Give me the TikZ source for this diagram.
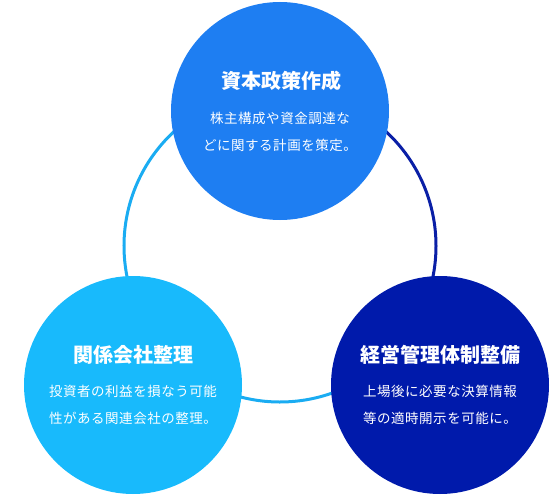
\documentclass[tikz,border=0pt]{standalone}
\usepackage{fontspec}
\setmainfont{Noto Sans CJK JP}
\newfontfamily\bodyfont[LetterSpace=4]{Noto Sans CJK JP}
\definecolor{topblue}{HTML}{1E7EF2}
\definecolor{leftblue}{HTML}{18BAFC}
\definecolor{rightblue}{HTML}{001AAB}
\definecolor{ringlight}{HTML}{1AACF2}
\definecolor{ringdark}{HTML}{0A1FA6}
\tikzset{
  bigcirc/.style={circle, minimum size=218pt, inner sep=0pt},
  ttl/.style={text=white, font=\fontsize{20}{24}\selectfont\bfseries},
  bdy/.style={text=white, align=center, font=\bodyfont\fontsize{13.5}{26.5}\selectfont},
  ring/.style={line width=3pt}
}
\begin{document}
\begin{tikzpicture}[x=1pt,y=-1pt]
\useasboundingbox (0,0) rectangle (552,495);
\coordinate (C) at (280,246);
\draw[ring, ringdark] (C) ++(-90:156) arc[start angle=-90, end angle=41, radius=156];
\draw[ring, ringlight] (C) ++(41:156) arc[start angle=41, end angle=270, radius=156];
\node[bigcirc, fill=topblue] (top) at (280,111) {};
\node[bigcirc, fill=leftblue] (left) at (133,385) {};
\node[bigcirc, fill=rightblue] (right) at (440,385) {};
\node[ttl] (toptitle) at (281,81) {資本政策作成};
\node[bdy] (topbody) at (280,132) {株主構成や資金調達な\\どに関する計画を策定。};
\node[ttl] (lefttitle) at (133,355) {関係会社整理};
\node[bdy] (leftbody) at (133,405) {投資者の利益を損なう可能\\性がある関連会社の整理。};
\node[ttl] (righttitle) at (440,355) {経営管理体制整備};
\node[bdy] (rightbody) at (440,405) {上場後に必要な決算情報\\等の適時開示を可能に。};
\end{tikzpicture}
\end{document}
